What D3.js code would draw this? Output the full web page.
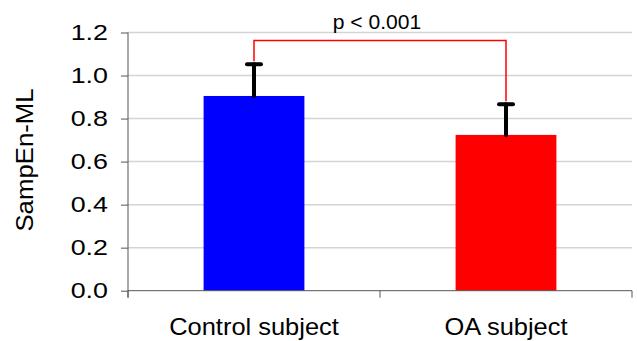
<!DOCTYPE html>
<html>
<head>
<meta charset="utf-8">
<script src="https://cdn.jsdelivr.net/npm/d3@7"></script>
<style>
  body { margin: 0; background: #fff; }
  text { font-family: Arial, 'Liberation Sans', sans-serif; fill: #000; }
</style>
</head>
<body>
<script>
let categories = ['Control subject', 'OA subject']
let means = [0.905, 0.724]
let sds = [0.148, 0.143]
let colors = ['#0000ff', '#ff0000']
let yTicks = [0, 0.2, 0.4, 0.6, 0.8, 1.0, 1.2]
let pLabel = 'p < 0.001'
let pLevel = 1.163

let margins = { top: 32.5, right: 5, bottom: 50.3, left: 128 }
let width = 637 - margins.left - margins.right
let height = 341 - margins.top - margins.bottom

let svg = d3.select('body').append('svg')
    .attr('width', 637)
    .attr('height', 341)
  .append('g')
    .attr('transform', 'translate(' + [margins.left, margins.top] + ')')

let x = d3.scaleBand()
  .domain(categories)
  .range([0, width])
  .padding(0)

let y = d3.scaleLinear()
  .domain([0, 1.2])
  .range([height, 0])

let barW = x.bandwidth() * 0.4

// stretch text a bit wider, the source font runs wide
function stretch(sel, k) {
  sel.each(function() {
    let w = this.getComputedTextLength()
    d3.select(this)
      .attr('textLength', w * k)
      .attr('lengthAdjust', 'spacingAndGlyphs')
  })
}

// gridlines
svg.append('g')
  .selectAll('line')
  .data(yTicks.filter((d) => d > 0))
  .enter().append('line')
    .attr('x1', 0)
    .attr('x2', width)
    .attr('y1', y)
    .attr('y2', y)
    .attr('stroke', '#d4d4d4')
    .attr('stroke-width', 1.5)

// y axis
let axis_y = svg.append('g')
  .attr('class', 'axis y')
  .call(d3.axisLeft(y)
    .tickValues(yTicks)
    .tickFormat(d3.format('.1f'))
    .tickSize(7)
    .tickSizeOuter(0)
    .tickPadding(13))
axis_y.select('.domain').remove()
axis_y.selectAll('line').attr('stroke', '#555')
axis_y.selectAll('text')
  .style('font-size', '22px')
  .call(stretch, 1.22)

svg.append('line')
  .attr('x1', 0).attr('x2', 0)
  .attr('y1', y(1.2)).attr('y2', height + 7)
  .attr('stroke', '#555')

// bars
svg.append('g')
  .selectAll('rect')
  .data(categories)
  .enter().append('rect')
    .attr('x', (d) => x(d) + (x.bandwidth() - barW) / 2)
    .attr('width', barW)
    .attr('y', (d, i) => y(means[i]))
    .attr('height', (d, i) => height - y(means[i]))
    .attr('fill', (d, i) => colors[i])

// x axis
let axis_x = svg.append('g')
  .attr('class', 'axis x')
  .attr('transform', 'translate(' + [0, height] + ')')
  .call(d3.axisBottom(x)
    .tickSize(0)
    .tickPadding(27))
axis_x.select('.domain').remove()
axis_x.selectAll('text')
  .style('font-size', '24px')
  .call(stretch, 1.06)

axis_x.append('line')
  .attr('x1', 0).attr('x2', width)
  .attr('stroke', '#555')

axis_x.selectAll('.bound')
  .data(categories.map((d) => x(d)).concat([width]))
  .enter().append('line')
    .attr('class', 'bound')
    .attr('x1', (d) => d).attr('x2', (d) => d)
    .attr('y1', 0).attr('y2', 7)
    .attr('stroke', '#555')

// error bars
let err = svg.append('g')
  .attr('stroke', '#000')
  .attr('stroke-width', 4)
  .attr('stroke-linecap', 'round')

err.selectAll('.stem')
  .data(categories)
  .enter().append('line')
    .attr('class', 'stem')
    .attr('x1', (d) => x(d) + x.bandwidth() / 2)
    .attr('x2', (d) => x(d) + x.bandwidth() / 2)
    .attr('y1', (d, i) => y(means[i]))
    .attr('y2', (d, i) => y(means[i] + sds[i]))

err.selectAll('.cap')
  .data(categories)
  .enter().append('line')
    .attr('class', 'cap')
    .attr('x1', (d) => x(d) + x.bandwidth() / 2 - 7)
    .attr('x2', (d) => x(d) + x.bandwidth() / 2 + 7)
    .attr('y1', (d, i) => y(means[i] + sds[i]))
    .attr('y2', (d, i) => y(means[i] + sds[i]))

// significance bracket
let cx = categories.map((d) => x(d) + x.bandwidth() / 2)
let bracket = d3.line()
svg.append('path')
  .attr('d', bracket([
    [cx[0], y(means[0] + sds[0]) - 3],
    [cx[0], y(pLevel)],
    [cx[1], y(pLevel)],
    [cx[1], y(means[1] + sds[1]) - 3]
  ]))
  .attr('fill', 'none')
  .attr('stroke', '#ff0000')
  .attr('stroke-width', 1.5)

svg.append('text')
  .attr('x', (cx[0] + cx[1]) / 2 - 3)
  .attr('y', -4)
  .attr('text-anchor', 'middle')
  .style('font-size', '19.5px')
  .text(pLabel)
  .call(stretch, 1.08)

// y axis title
svg.append('text')
  .attr('transform', 'translate(' + [33 - margins.left, 160 - margins.top] + ') rotate(-90)')
  .attr('text-anchor', 'middle')
  .style('font-size', '23px')
  .text('SampEn-ML')
  .call(stretch, 1.12)
</script>
</body>
</html>
